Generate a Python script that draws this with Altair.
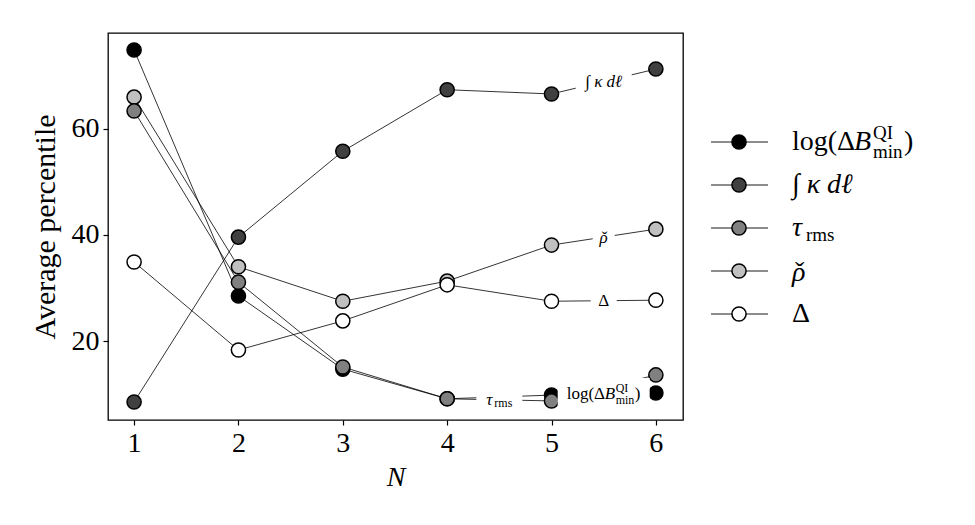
import altair as alt
import pandas as pd

# ---- data ----
N = [1, 2, 3, 4, 5, 6]
log_dB_min = [74.9, 28.5, 14.7, 9.1, 9.8, 10.2]
int_kappa = [8.5, 39.6, 55.8, 67.4, 66.6, 71.3]
tau_rms = [63.4, 31.1, 15.1, 9.1, 8.7, 13.6]
rho_check = [66.0, 34.0, 27.5, 31.3, 38.1, 41.1]
delta = [34.9, 18.3, 23.8, 30.6, 27.5, 27.7]

series_keys = ["log", "kappa", "tau", "rho", "delta"]
series_values = {"log": log_dB_min, "kappa": int_kappa, "tau": tau_rms,
                 "rho": rho_check, "delta": delta}
fills = {"log": "#000000", "kappa": "#404040", "tau": "#808080",
         "rho": "#c0c0c0", "delta": "#ffffff"}
draw_order = ["log", "kappa", "rho", "delta", "tau"]
y_ticks = [20, 40, 60]

FONT = "Liberation Serif"
FS = 28
FS_SUB = 19

xs = alt.Scale(domain=[0.75, 6.26], nice=False, zero=False)
ys = alt.Scale(domain=[5.1, 78.1], nice=False, zero=False)
X = alt.X("N:Q", scale=xs, axis=alt.Axis(values=N, title="N", titleFontStyle="italic",
                                          format="d", titlePadding=6))
Y = alt.Y("v:Q", scale=ys, axis=alt.Axis(values=y_ticks, title="Average percentile",
                                          titlePadding=11, titleFontSize=30))

layers = []
for k in draw_order:
    df = pd.DataFrame({"N": N, "v": series_values[k]})
    base = alt.Chart(df).encode(x=X, y=Y)
    layers.append(base.mark_line(color="black", strokeWidth=0.8))
    layers.append(base.mark_point(shape="circle", filled=True, fill=fills[k], stroke="black",
                                  strokeWidth=1.5, size=200, opacity=1))


def inline_label(key, seg, pieces, box_w, box_h):
    vals = series_values[key]
    row = pd.DataFrame({"N": [(N[seg] + N[seg + 1]) / 2],
                        "v": [(vals[seg] + vals[seg + 1]) / 2]})
    base = alt.Chart(row).encode(x=X, y=Y)
    h = box_h / box_w
    path = f"M-1,{-h}L1,{-h}L1,{h}L-1,{h}Z"
    out = [base.mark_point(shape=path, size=box_w ** 2, filled=True, fill="white",
                           opacity=1, strokeWidth=0)]
    for text, dx, dy, fs, style, align in pieces:
        out.append(base.mark_text(text=text, dx=dx, dy=dy, fontSize=fs, fontStyle=style,
                                  align=align, baseline="middle", font=FONT, color="black"))
    return out


I1, I2 = 17, 12
layers += inline_label("kappa", 4, [("∫ κ dℓ", 0, 0, I1, "italic", "center")], 56, 18)
layers += inline_label("rho", 4, [("ρ", 0, 1, I1, "italic", "center"),
                                  ("ˇ", 1, 1, I1, "normal", "center")], 22, 18)
layers += inline_label("delta", 4, [("Δ", 0, 0, I1, "normal", "center")], 26, 18)
layers += inline_label("tau", 3, [("τ", -13, 0, I1, "italic", "left"),
                                  ("rms", -5, 3, I2, "normal", "left")], 46, 18)
layers += inline_label("log", 4, [("log(Δ", -37, 0, I1, "normal", "left"),
                                  ("B", 1, 0, I1, "italic", "left"),
                                  ("QI", 12, -6, I2, "normal", "left"),
                                  ("min", 12, 6, I2, "normal", "left"),
                                  (")", 31, 0, I1, "normal", "left")], 92, 32)

main = alt.layer(*layers).properties(
    width=575, height=387,
    view=alt.ViewBackground(stroke="black", strokeWidth=1.3, fill="white"))

# ---- legend panel ----
leg_df = pd.DataFrame({"key": series_keys})
ly = alt.Y("key:N", scale=alt.Scale(type="point", domain=series_keys, range=[109, 281],
                                    padding=0), axis=None)
lbase = alt.Chart(leg_df).encode(y=ly)
leg_layers = [
    lbase.mark_rule(color="black", strokeWidth=0.9).encode(x=alt.value(7), x2=alt.value(64)),
    lbase.mark_point(shape="circle", filled=True, stroke="black", strokeWidth=1.5,
                     size=200, opacity=1).encode(
        x=alt.value(35),
        fill=alt.Fill("key:N", scale=alt.Scale(domain=series_keys,
                                               range=[fills[k] for k in series_keys]),
                      legend=None)),
]


def leg_text(key, pieces):
    b = alt.Chart(leg_df).transform_filter(alt.datum.key == key).encode(y=ly)
    return [b.mark_text(text=t, dx=0, dy=dy, fontSize=fs, fontStyle=st, align="left",
                        baseline="middle", font=FONT, color="black").encode(x=alt.value(x))
            for t, x, dy, fs, st in pieces]


TX = 88
leg_layers += leg_text("log", [("log(Δ", TX, 0, FS, "normal"),
                               ("B", TX + 62, 0, FS, "italic"),
                               ("QI", TX + 81, -9, FS_SUB, "normal"),
                               ("min", TX + 81, 10, FS_SUB, "normal"),
                               (")", TX + 112, 0, FS, "normal")])
leg_layers += leg_text("kappa", [("∫ κ dℓ", TX, 0, FS, "italic")])
leg_layers += leg_text("tau", [("τ", TX, 0, FS, "italic"),
                               ("rms", TX + 14, 7, FS_SUB, "normal")])
leg_layers += leg_text("rho", [("ρ", TX, 2, FS, "italic"),
                               ("ˇ", TX + 3, 2, FS, "normal")])
leg_layers += leg_text("delta", [("Δ", TX, 0, FS, "normal")])

legend = alt.layer(*leg_layers).properties(
    width=220, height=387, view=alt.ViewBackground(stroke=None, fill="white"))

chart = alt.hconcat(main, legend, spacing=20).properties(
    padding={"left": 21, "top": 24, "right": 5, "bottom": 5},
    background="white",
).configure_axis(
    labelFont=FONT, titleFont=FONT, labelFontSize=FS, titleFontSize=FS,
    titleFontWeight="normal", labelColor="black", titleColor="black",
    tickColor="black", tickSize=5, tickWidth=1.2, domain=False, grid=False,
    labelPadding=4,
).configure_view(stroke=None)

chart.save("out.html", embed_options={"renderer": "svg", "actions": False})
